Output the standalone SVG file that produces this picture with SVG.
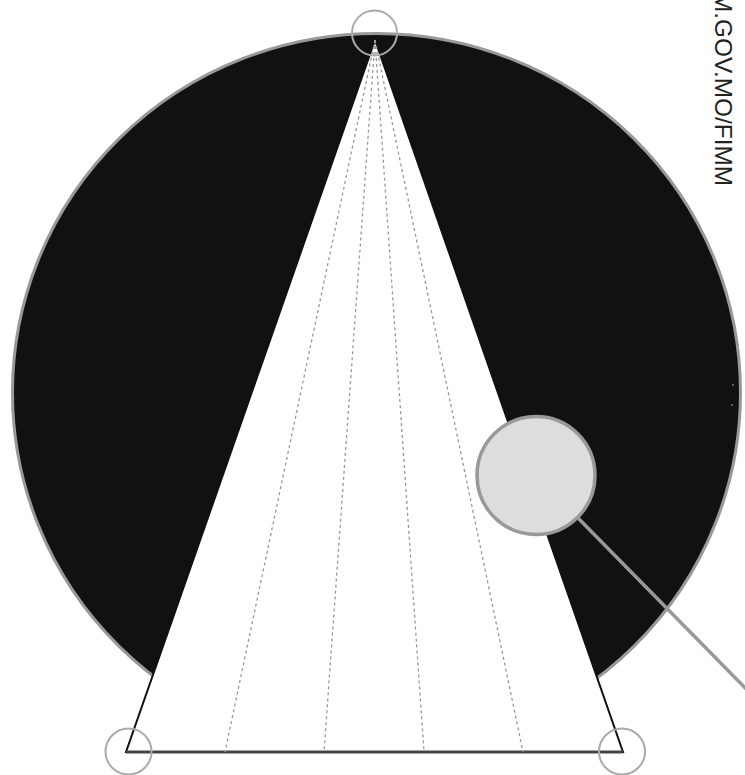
<svg xmlns="http://www.w3.org/2000/svg" width="745" height="775" viewBox="0 0 745 775">
<style>
.ring{fill:none;stroke:#aaaaaa;stroke-width:2}
.dash{stroke:#999999;stroke-width:1.3;stroke-dasharray:3 3;fill:none}
</style>
<rect width="745" height="775" fill="#ffffff"/>
<g id="disc">
<ellipse cx="376.5" cy="392.5" rx="364" ry="359" fill="#111111" stroke="#999999" stroke-width="3"/>
<circle cx="733" cy="385" r="1" fill="#777777"/>
<circle cx="732" cy="405" r="1" fill="#777777"/>
</g>
<g id="triangle">
<polygon points="375,40 126,752 623,752" fill="#ffffff" stroke="#111111" stroke-width="2" stroke-linejoin="miter"/>
<line x1="126" y1="752" x2="623" y2="752" stroke="#444444" stroke-width="3"/>
</g>
<g id="connectors">
<line class="dash" x1="375" y1="40" x2="225" y2="752"/>
<line class="dash" x1="375" y1="40" x2="324" y2="752"/>
<line class="dash" x1="375" y1="40" x2="424" y2="752"/>
<line class="dash" x1="375" y1="40" x2="523" y2="752"/>
<line x1="578" y1="518" x2="760" y2="703" stroke="#999999" stroke-width="3.5"/>
</g>
<g id="apex-marker"><circle class="ring" cx="374.5" cy="33" r="22.5"/></g>
<g id="left-marker"><circle class="ring" cx="128.5" cy="751.5" r="23"/></g>
<g id="right-marker"><circle class="ring" cx="622" cy="751.5" r="23"/></g>
<g id="lens">
<circle cx="536" cy="475.5" r="59" fill="#dddddd" stroke="#999999" stroke-width="3.5"/>
</g>
<g id="label">
<text transform="translate(715,-8) rotate(90)" font-family="'Liberation Sans', Arial, sans-serif" font-size="24" fill="#222222" textLength="194" lengthAdjust="spacingAndGlyphs">M.GOV.MO/FIMM</text>
</g>
</svg>
